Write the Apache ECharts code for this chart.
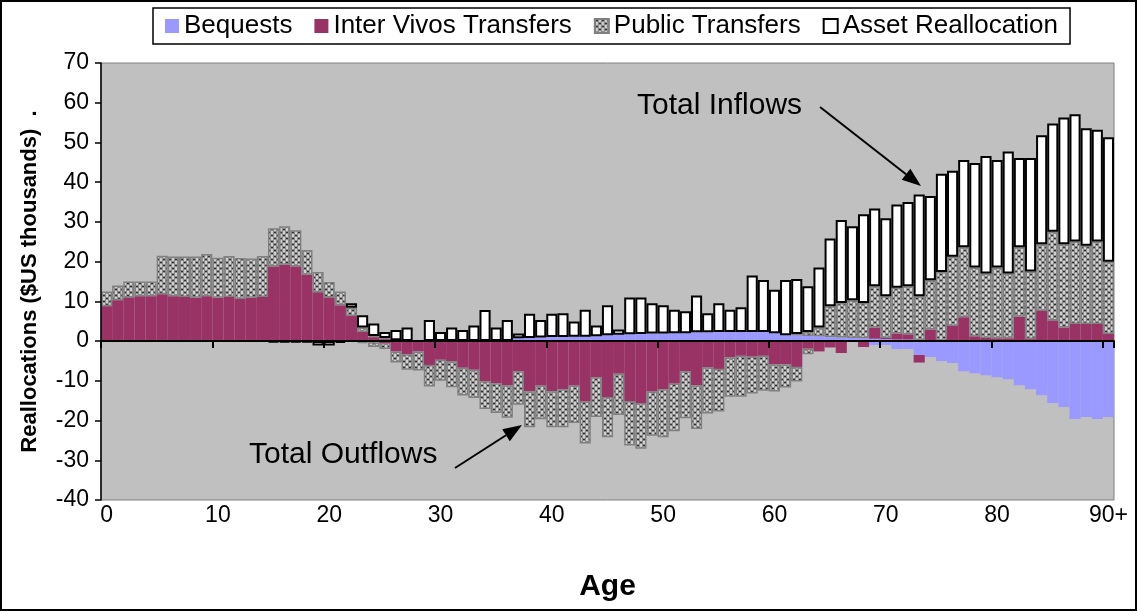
<!DOCTYPE html>
<html>
<head>
<meta charset="utf-8">
<script src="https://cdn.jsdelivr.net/npm/echarts@6/dist/echarts.min.js"></script>
<style>
  html, body { margin: 0; padding: 0; background: #fff; }
  #chart { width: 1137px; height: 611px; }
</style>
</head>
<body>
<div id="chart"></div>
<script>
// ages 0..89, then 90+
const ages = []
for (let a = 0; a < 90; a++) ages.push(String(a))
ages.push('90+')

const yTicks = { min: -40, max: 70, step: 10 }

// inflows (positive side), $US thousands
const bequestsIn = [
  0, 0, 0, 0, 0, 0, 0, 0, 0, 0,
  0, 0, 0, 0, 0, 0, 0, 0, 0, 0,
  0, 0, 0, 0, 0, 0, 0, 0, 0, 0,
  0, 0, 0, 0, 0, 0, 0, 0.7, 0.8, 0.9,
  1.0, 1.0, 1.1, 1.1, 1.2, 1.5, 1.6, 1.7, 1.8, 1.9,
  1.9, 2.0, 2.0, 2.2, 2.2, 2.3, 2.3, 2.3, 2.3, 2.3,
  2.0, 1.5, 1.5, 1.3, 1.2, 1.0, 0.9, 0.8, 0.7, 0.6,
  0.5, 0.4, 0.4, 0.3, 0.2, 0.1, 0, 0, 0, 0,
  0, 0, 0, 0, 0, 0, 0, 0, 0, 0,
  0,
]
const interVivosIn = [
  8.8, 10.3, 11.0, 11.3, 11.3, 11.8, 11.3, 11.1, 10.9, 11.3,
  10.9, 11.1, 10.6, 10.9, 11.1, 18.8, 19.2, 18.8, 16.7, 12.3,
  11.0, 9.0, 6.3, 2.3, 1.0, 0.5, 0.2, 0, 0, 0,
  0, 0, 0, 0, 0, 0, 0, 0, 0, 0,
  0, 0, 0, 0, 0, 0, 0, 0, 0, 0,
  0, 0, 0, 0, 0, 0, 0, 0, 0, 0,
  0, 0, 0, 0, 0, 0, 0, 0, 0, 2.8,
  0.3, 1.5, 1.3, 0, 2.7, 0, 3.8, 6.0, 1.2, 0.8,
  0.7, 0.7, 6.1, 0.5, 7.6, 5.2, 3.4, 4.3, 4.3, 4.3,
  1.8,
]
const publicIn = [
  3.7, 3.7, 4.0, 3.7, 3.7, 9.7, 10.0, 10.2, 10.4, 10.6,
  10.1, 10.3, 10.3, 9.9, 10.3, 9.6, 9.7, 9.1, 6.2, 5.1,
  3.9, 3.5, 2.1, 1.1, 0.3, 0.3, 0, 0, 0, 0,
  0, 0, 0, 0, 0, 0, 0, 0, 0, 0,
  0, 0, 0, 0, 0, 0, 0, 0, 0, 0,
  0, 0, 0, 0, 0, 0, 0, 0, 0, 0,
  0, 0, 0.3, 1.0, 2.2, 7.8, 8.7, 9.5, 8.9, 10.4,
  10.5, 11.5, 12.1, 11.0, 12.4, 17.3, 17.4, 17.6, 17.3, 16.2,
  17.8, 16.3, 17.5, 17.0, 16.8, 22.3, 21.0, 20.8, 19.7, 20.8,
  18.2,
]
const assetIn = [
  0, 0, 0, 0, 0, 0, 0, 0, 0, 0,
  0, 0, 0, 0, 0, 0, 0, 0, 0, 0,
  0, 0, 1.1, 3.1, 3.1, 1.5, 2.6, 3.4, 0, 5.3,
  2.3, 3.4, 2.8, 3.9, 7.8, 3.4, 5.3, 1.2, 6.1, 4.4,
  5.9, 6.0, 3.8, 6.8, 2.7, 7.5, 1.3, 9.3, 9.2, 7.6,
  7.1, 5.9, 5.5, 9.3, 4.8, 7.2, 5.6, 6.2, 14.2, 13.1,
  10.9, 13.9, 13.8, 11.5, 15.1, 17.0, 20.9, 18.6, 22.3, 19.6,
  19.6, 21.0, 21.2, 25.6, 21.2, 24.7, 21.7, 22.0, 26.3, 29.6,
  27.1, 30.7, 22.5, 28.6, 27.4, 27.3, 31.9, 32.0, 29.6, 28.1,
  31.3,
]

// outflows (negative side)
const bequestsOut = [
  0, 0, 0, 0, 0, 0, 0, 0, 0, 0,
  0, 0, 0, 0, 0, 0, 0, 0, 0, 0,
  0, 0, 0, 0, 0, 0, 0, 0, 0, 0,
  0, 0, 0, 0, 0, 0, 0, 0, 0, 0,
  0, 0, 0, 0, 0, 0, 0, 0, 0, 0,
  0, 0, 0, 0, 0, 0, 0, 0, 0, 0,
  0, 0, 0, 0, 0, 0, 0, 0, 0, -1.0,
  -1.0, -2.0, -2.0, -3.5, -4.0, -5.0, -5.5, -7.6, -8.1, -8.6,
  -9.1, -9.6, -11.1, -12.1, -13.6, -15.6, -16.6, -19.6, -19.1, -19.6,
  -19.1,
]
const interVivosOut = [
  0, 0, 0, 0, 0, 0, 0, 0, 0, 0,
  0, 0, 0, 0, 0, 0, 0, 0, 0, 0,
  0, 0, 0, -0.2, -0.3, -0.5, -2.6, -3.3, -2.6, -6.0,
  -4.7, -5.1, -6.7, -7.2, -10.1, -10.6, -11.1, -7.6, -12.6, -11.2,
  -12.6, -12.1, -11.2, -15.2, -9.1, -14.1, -8.2, -15.1, -15.6, -12.7,
  -12.1, -10.7, -7.6, -11.1, -6.6, -7.0, -4.1, -3.7, -3.9, -3.7,
  -5.8, -5.8, -6.5, -1.9, -2.6, -1.6, -3.0, 0, -1.5, 0,
  0, 0, 0, -1.9, 0, 0, 0, 0, 0, 0,
  0, 0, 0, 0, 0, 0, 0, 0, 0, 0,
  0,
]
const publicOut = [
  0, 0, 0, 0, 0, 0, 0, 0, 0, 0,
  0, 0, 0, 0, 0, 0, 0, 0, 0, 0,
  0, 0, 0, -0.3, -1.2, -1.5, -2.8, -3.9, -4.8, -5.4,
  -5.3, -6.5, -7.0, -7.1, -7.0, -7.5, -8.2, -8.4, -9.1, -8.5,
  -9.1, -9.6, -9.4, -10.6, -10.0, -10.1, -10.4, -11.2, -11.5, -11.1,
  -12.1, -12.0, -11.8, -11.0, -11.6, -10.7, -9.9, -10.3, -9.3, -8.8,
  -6.9, -5.9, -3.7, -1.4, 0, 0, 0, 0, 0, 0,
  0, 0, 0, 0, 0, 0, 0, 0, 0, 0,
  0, 0, 0, 0, 0, 0, 0, 0, 0, 0,
  0,
]
const assetOut = [
  0, 0, 0, 0, 0, 0, 0, 0, 0, 0,
  0, 0, 0, 0, 0, -0.3, -0.3, -0.3, -0.3, -1.1,
  -1.1, -0.4, 0, 0, 0, 0, 0, 0, 0, 0,
  0, 0, 0, 0, 0, 0, 0, 0, 0, 0,
  0, 0, 0, 0, 0, 0, 0, 0, 0, 0,
  0, 0, 0, 0, 0, 0, 0, 0, 0, 0,
  0, 0, 0, 0, 0, 0, 0, 0, 0, 0,
  0, 0, 0, 0, 0, 0, 0, 0, 0, 0,
  0, 0, 0, 0, 0, 0, 0, 0, 0, 0,
  0,
]

const font = 'Liberation Sans, Arial, sans-serif'

// dotted fill for public transfers
const tile = document.createElement('canvas')
tile.width = 6
tile.height = 6
const tctx = tile.getContext('2d')
tctx.fillStyle = '#d0d0d0'
tctx.fillRect(0, 0, 6, 6)
tctx.fillStyle = '#8c8c8c'
tctx.fillRect(0, 0, 4, 3)
tctx.fillRect(3, 3, 3, 3)
tctx.fillRect(0, 3, 1, 3)
tctx.fillStyle = '#2e2e2e'
tctx.fillRect(1, 1, 2, 1)
tctx.fillRect(4, 4, 2, 1)
const dotted = { image: tile, repeat: 'repeat' }

const styles = {
  'Bequests': { color: '#9999ff' },
  'Inter Vivos Transfers': { color: '#993366' },
  'Public Transfers': { color: dotted, borderColor: '#808080', borderWidth: 1.5 },
  'Asset Reallocation': { color: '#ffffff', borderColor: '#000000', borderWidth: 2 },
}

const noZero = (arr) => arr.map((v) => (v === 0 ? '-' : v))

const makeSeries = (name, values) => ({
  name,
  type: 'bar',
  stack: 'flows',
  barCategoryGap: '0%',
  barGap: '0%',
  data: noZero(values),
  itemStyle: styles[name],
  emphasis: { disabled: true },
})

function arrow(x1, y1, x2, y2) {
  const a = Math.atan2(y2 - y1, x2 - x1)
  const len = 19
  const w = 7
  const bx = x2 - len * Math.cos(a)
  const by = y2 - len * Math.sin(a)
  return [
    { type: 'line', shape: { x1, y1, x2: bx, y2: by }, style: { stroke: '#000', lineWidth: 2 } },
    {
      type: 'polygon',
      shape: {
        points: [
          [x2, y2],
          [bx + w * Math.sin(a), by - w * Math.cos(a)],
          [bx - w * Math.sin(a), by + w * Math.cos(a)],
        ],
      },
      style: { fill: '#000' },
    },
  ]
}

const chart = echarts.init(document.getElementById('chart'))
const option = {
  animation: false,
  textStyle: { fontFamily: font, color: '#000' },
  grid: {
    left: 101,
    right: 23,
    top: 63,
    bottom: 111,
    show: true,
    backgroundColor: '#c0c0c0',
    borderColor: '#808080',
    borderWidth: 1,
  },
  legend: {
    data: ['Bequests', 'Inter Vivos Transfers', 'Public Transfers', 'Asset Reallocation'],
    left: 153,
    top: 8,
    icon: 'rect',
    itemWidth: 14,
    itemHeight: 14,
    itemGap: 22,
    padding: [5, 12],
    backgroundColor: '#fff',
    borderColor: '#000',
    borderWidth: 1.5,
    textStyle: { fontSize: 26, color: '#000', fontFamily: font },
  },
  xAxis: [
    {
      type: 'category',
      data: ages,
      z: 10,
      axisLine: { onZero: true, lineStyle: { color: '#000', width: 2 } },
      axisTick: { show: true, interval: 9, length: 7, lineStyle: { color: '#000', width: 2 } },
      axisLabel: { show: false },
      splitLine: { show: false },
    },
    {
      type: 'category',
      data: ages,
      position: 'bottom',
      axisLine: { show: false, onZero: false },
      axisTick: { show: false },
      axisLabel: { interval: 9, fontSize: 23, color: '#000', margin: 4 },
      splitLine: { show: false },
      name: 'Age',
      nameLocation: 'middle',
      nameGap: 72,
      nameTextStyle: { fontSize: 30, fontWeight: 'bold', color: '#000' },
    },
  ],
  yAxis: {
    type: 'value',
    min: yTicks.min,
    max: yTicks.max,
    interval: yTicks.step,
    z: 10,
    axisLine: { show: true, onZero: false, lineStyle: { color: '#000', width: 1.5 } },
    axisTick: { show: true, length: 6, lineStyle: { color: '#000', width: 1.5 } },
    axisLabel: { fontSize: 23, color: '#000', margin: 12 },
    splitLine: { show: false },
    name: 'Reallocations ($US thousands)  .',
    nameLocation: 'middle',
    nameGap: 60,
    nameTextStyle: { fontSize: 22, fontWeight: 'bold', color: '#000' },
  },
  series: [
    makeSeries('Bequests', bequestsIn),
    makeSeries('Inter Vivos Transfers', interVivosIn),
    makeSeries('Public Transfers', publicIn),
    makeSeries('Asset Reallocation', assetIn),
    makeSeries('Bequests', bequestsOut),
    makeSeries('Inter Vivos Transfers', interVivosOut),
    makeSeries('Public Transfers', publicOut),
    makeSeries('Asset Reallocation', assetOut),
  ],
  graphic: [
    {
      type: 'rect',
      shape: { x: 1, y: 1, width: 1135, height: 609 },
      style: { fill: 'none', stroke: '#000', lineWidth: 2 },
      silent: true,
    },
    {
      type: 'text',
      left: 637,
      top: 91,
      style: { text: 'Total Inflows', fontSize: 30, fontFamily: font, fill: '#000' },
    },
    {
      type: 'text',
      left: 249,
      top: 440,
      style: { text: 'Total Outflows', fontSize: 30, fontFamily: font, fill: '#000' },
    },
    ...arrow(820, 107, 921, 186),
    ...arrow(455, 468, 522, 425),
  ],
}
chart.setOption(option)
</script>
</body>
</html>
